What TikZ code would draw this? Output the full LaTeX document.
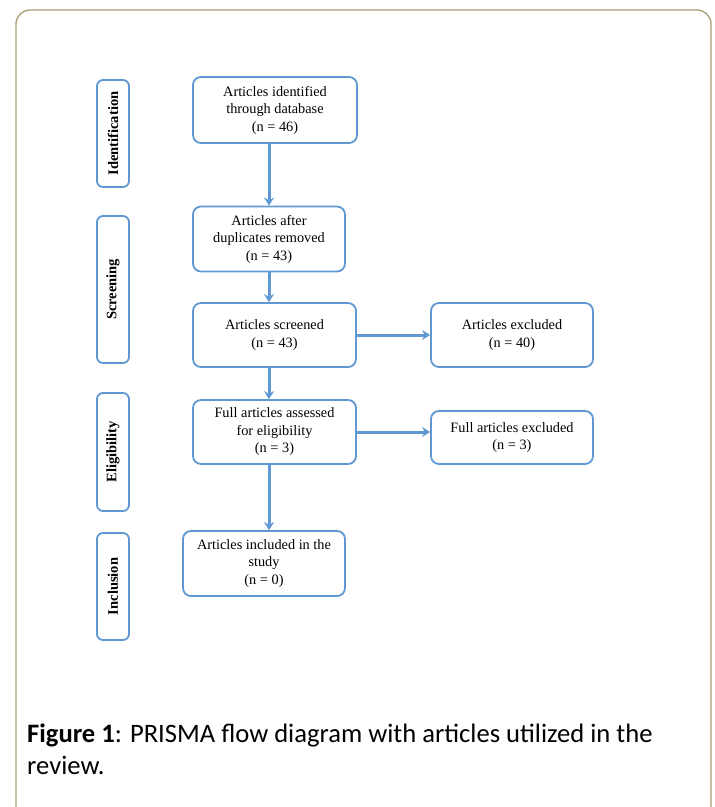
\documentclass[tikz,border=0pt]{standalone}
\usepackage{fontspec}
\setmainfont{Liberation Serif}
\newfontfamily\capfont{Carlito}
\usepackage{tikz}
\usetikzlibrary{positioning}
\usetikzlibrary{arrows.meta}
\definecolor{boxblue}{RGB}{96,152,210}
\definecolor{framegray}{RGB}{168,158,120}
\tikzstyle{stage_box}=[draw=boxblue, line width=1.8pt, rounded corners=8pt, align=center,
    font=\fontsize{14.3}{17.5}\selectfont, inner sep=0pt]
\tikzstyle{phase_box}=[draw=boxblue, line width=1.8pt, rounded corners=6pt, rotate=90,
    minimum height=32pt, inner sep=0pt, font=\fontsize{14.5}{16}\selectfont\bfseries]
\tikzstyle{flow}=[draw=boxblue, line width=3pt, -{Stealth[length=8pt,width=10pt]}]

\begin{document}
\begin{tikzpicture}[x=1pt, y=-1pt]
\useasboundingbox (0,0) rectangle (715,807);
\draw[framegray, line width=1.3pt, rounded corners=14pt] (16,830) -- (16,10) -- (711,10) -- (711,830);
% phases
\node[phase_box, minimum width=107pt] (ph0) at (113,133.5){Identification};
\node[phase_box, minimum width=147pt] (ph1) at (113,289.5){Screening};
\node[phase_box, minimum width=118pt] (ph2) at (113,452){Eligibility};
\node[phase_box, minimum width=107pt] (ph3) at (113,586.5){Inclusion};
% stages
\node[stage_box, minimum width=164pt, minimum height=66pt] (art0) at (275,110){Articles identified\\through database\\(n = 46)};
\node[stage_box, minimum width=152pt, minimum height=65pt] (art1) at (269,239){Articles after\\duplicates removed\\(n = 43)};
\node[stage_box, minimum width=163pt, minimum height=64pt] (art2) at (274.5,335){Articles screened\\(n = 43)};
\node[stage_box, minimum width=163pt, minimum height=64pt] (art3) at (274.5,432){Full articles assessed\\for eligibility\\(n = 3)};
\node[stage_box, minimum width=162pt, minimum height=65pt] (art4) at (264,563.5){Articles included in the\\study\\(n = 0)};
\node[stage_box, minimum width=162pt, minimum height=64pt] (exc0) at (512,335){Articles excluded\\(n = 40)};
\node[stage_box, minimum width=162pt, minimum height=53pt] (exc1) at (512,437.5){Full articles excluded\\(n = 3)};
\draw[flow](art0.south -| art1) -- (art1.north);
\draw[flow](art1.south) -- (art2.north -| art1);
\draw[flow](art2.south -| art1) -- (art3.north -| art1);
\draw[flow](art3.south -| art1) -- (art4.north -| art1);
\draw[flow](art2.east) -- (exc0.west);
\draw[flow](art3.east) -- (exc1.west |- art3);
% caption
\node[anchor=base west, inner sep=0pt, font=\capfont\fontsize{26.6}{32}\selectfont] (cap0) at (27,742){\textbf{Figure 1}: PRISMA flow diagram with articles utilized in the};
\node[anchor=base west, inner sep=0pt, font=\capfont\fontsize{26.6}{32}\selectfont] (cap1) at (27,774){review.};
\end{tikzpicture}
\end{document}
